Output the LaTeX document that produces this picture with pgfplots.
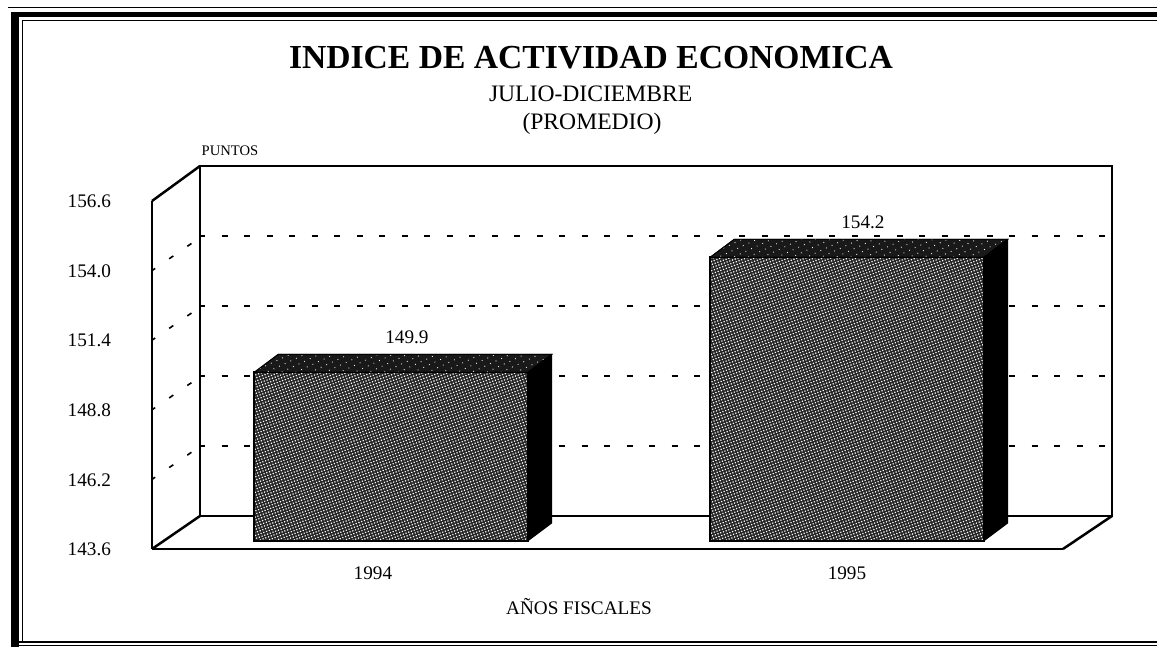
\documentclass[border=0pt]{standalone}
\usepackage{fontspec}
\setmainfont{Liberation Serif}
\usepackage{pgfplots}
\pgfplotsset{compat=1.18}
\usetikzlibrary{patterns.meta,calc}

% 1 px of the reference = 0.5pt here
\pgfplotsset{
  wall/.style={
    scale only axis, anchor=south west, clip=false,
    ymin=143.6, ymax=156.6,
    /pgf/number format/assume math mode=true,
    /pgf/number format/fixed, /pgf/number format/precision=1,
    /pgf/number format/fixed zerofill,
  },
}
\pgfplotstableread{
x  y
0  149.9
1  154.2
}\barsdata

\begin{document}
\begin{tikzpicture}[x=1pt,y=1pt]
\path[use as bounding box] (0,0) rectangle (578.5,323.5);

% scanned frame (no right side in the reference)
\fill[black] (5.7,0) rectangle (9.5,317);
\fill[black] (5.7,315.2) rectangle (578.5,317.5);
\draw[line width=.5pt] (4,319.5) -- (578.5,319.5);
\draw[line width=.5pt] (11,1.8) -- (11,313) -- (578.5,313);
\draw[line width=.9pt] (5.5,2.3) -- (578.5,2.3);
\draw[line width=.4pt] (5.5,.7) -- (578.5,.7);

% back wall with the dashed grid
\begin{axis}[wall, at={(100pt,65.5pt)}, width=456pt, height=175pt,
    xmin=0, xmax=1, xtick=\empty,
    ytick={146.2,148.8,151.4,154.0}, yticklabels={},
    major tick length=0pt,
    ymajorgrids, grid style={black, line width=.65pt, dash pattern=on 3pt off 8.25pt, dash phase=.5pt},
    axis line style={line width=1.25pt}]
\end{axis}

% front plane: scale, categories, floor and left wall
\begin{axis}[wall, at={(76pt,49pt)}, width=455.5pt, height=174pt,
    xmin=-0.524, xmax=1.4737,
    axis x line*=bottom, axis y line*=left,
    axis line style={line width=1.25pt, -},
    xtick={-0.0395,1}, xticklabels={1994,1995},
    ytick={143.6,146.2,148.8,151.4,154.0,156.6},
    major tick length=0pt,
    tick label style={font=\fontsize{9.6}{11}\selectfont},
    yticklabel style={xshift=-17pt, yshift=-.3pt},
    xticklabel style={yshift=-5.5pt},
    xlabel={AÑOS FISCALES},
    xlabel style={font=\fontsize{9.6}{11}\selectfont, anchor=center,
      at={(axis description cs:0.4687,-0.166)}}]
\draw[line width=1.25pt] (rel axis cs:0,1) -- ++(24pt,17.5pt);
\draw[line width=1.25pt] (rel axis cs:0,0) -- ++(24pt,16.5pt);
\draw[line width=1.25pt] (rel axis cs:1,0) -- ++(24.5pt,16.5pt);
\pgfplotsinvokeforeach{146.2,148.8,151.4,154.0}{
  \draw[line width=.8pt, dash pattern=on 2.5pt off 8.5pt, dash phase=5.8pt]
    ($(axis cs:-0.524,#1)+(24pt,16.5pt)$) -- (axis cs:-0.524,#1);
}
\end{axis}

% bars, 4pt above the front floor line
\begin{axis}[wall, at={(76pt,53pt)}, width=455.5pt, height=174pt,
    xmin=-0.524, xmax=1.4737, axis lines=none]
\addplot[ybar, bar width=0.6, draw=black, line width=1pt, fill=black!85,
    postaction={pattern={Dots[radius=.42pt,distance=1.45pt,angle=20]}, pattern color=white},
    nodes near coords, point meta=y,
    every node near coord/.append style={font=\fontsize{9.6}{11}\selectfont,
      text=black, anchor=center, xshift=8pt, yshift=17.5pt}]
  table {\barsdata};
% top faces
\addplot[fill=black!90, draw=black,
    postaction={pattern={Dots[radius=.3pt,distance=3.1pt,angle=25]}, pattern color=white}]
  coordinates {(-0.3,149.9)(-0.2474,150.572)(0.3526,150.572)(0.3,149.9)} -- cycle;
\addplot[fill=black!90, draw=black,
    postaction={pattern={Dots[radius=.3pt,distance=3.1pt,angle=25]}, pattern color=white}]
  coordinates {(0.7,154.2)(0.7526,154.872)(1.3526,154.872)(1.3,154.2)} -- cycle;
% side faces
\addplot[fill=black, draw=black]
  coordinates {(0.3,143.6)(0.3526,144.272)(0.3526,150.572)(0.3,149.9)} -- cycle;
\addplot[fill=black, draw=black]
  coordinates {(1.3,143.6)(1.3526,144.272)(1.3526,154.872)(1.3,154.2)} -- cycle;
\end{axis}

% titles
\node[font=\fontsize{16.8}{19}\selectfont\bfseries] at (295.5pt,294.5pt) {INDICE DE ACTIVIDAD ECONOMICA};
\node[font=\fontsize{11.8}{13}\selectfont] at (295.3pt,276.8pt) {JULIO-DICIEMBRE};
\node[font=\fontsize{11.8}{13}\selectfont] at (296pt,261.5pt) {(PROMEDIO)};
\node[font=\fontsize{7.3}{8}\selectfont] at (115pt,248pt) {PUNTOS};
\end{tikzpicture}
\end{document}
